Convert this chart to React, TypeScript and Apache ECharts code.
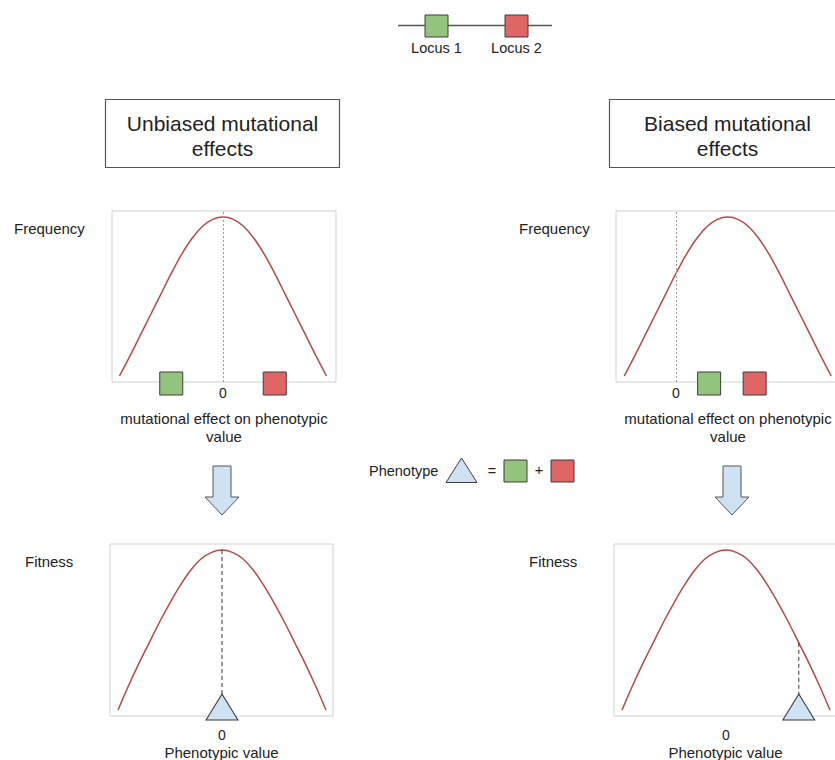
import { useEffect, useRef } from "react";
import * as echarts from "echarts";

// ---- data ----
const effectSteps = [-1, -0.9, -0.8, -0.7, -0.6, -0.5, -0.4, -0.3, -0.2, -0.1, 0, 0.1, 0.2, 0.3, 0.4, 0.5, 0.6, 0.7, 0.8, 0.9, 1];
const frequencyValues = [0, 0.125, 0.255, 0.385, 0.515, 0.645, 0.765, 0.865, 0.94, 0.985, 1, 0.985, 0.94, 0.865, 0.765, 0.645, 0.515, 0.385, 0.255, 0.125, 0];
const fitnessValues = [0, 0.15, 0.29, 0.42, 0.55, 0.67, 0.78, 0.875, 0.945, 0.985, 1, 0.985, 0.945, 0.875, 0.78, 0.67, 0.55, 0.42, 0.29, 0.15, 0];
const unbiasedMean = 0;
const biasedMean = 0.5;
const unbiasedLocusEffects = [-0.5, 0.5];
const biasedLocusEffects = [0.32, 0.76];
const unbiasedPhenotype = 0;
const unbiasedPhenotypeFitness = 1;
const biasedPhenotype = 0.7;
const biasedPhenotypeFitness = 0.42;
const triangleApex = 0.1;
const panelTitles = ["Unbiased mutational\neffects", "Biased mutational\neffects"];
const locusNames = ["Locus 1", "Locus 2"];
const topAxisName = "mutational effect on phenotypic\nvalue";
const bottomAxisName = "Phenotypic value";
const zeroTick = [0];

// ---- styles ----
const FONT = "'Liberation Sans', Arial, Helvetica, sans-serif";
const GREEN = "#93c47d";
const RED = "#e06666";
const BLUE = "#cfe2f3";
const CURVE = "#b5484a";
const EDGE = "#3c3c3c";
const TEXT = "#222222";

const grids = [
  { left: 112, top: 211, width: 224, height: 171 },
  { left: 616, top: 211, width: 224, height: 171 },
  { left: 110, top: 544, width: 223, height: 172 },
  { left: 614, top: 544, width: 223, height: 172 },
];
const xRanges = [
  [-1.0725, 1.0918],
  [-0.5797, 1.5845],
  [-1.0769, 1.0673],
  [-1.0769, 1.0673],
];
const yRanges = [
  [-0.0377, 1.0377],
  [-0.0377, 1.0377],
  [-0.0375, 1.0375],
  [-0.0375, 1.0375],
];

function buildOption() {
  const xAxis = xRanges.map((r, i) => ({
    type: "value",
    gridIndex: i,
    min: r[0],
    max: r[1],
    axisLine: { show: false },
    axisTick: { show: false },
    splitLine: { show: false },
    axisLabel: {
      customValues: zeroTick,
      formatter: (v: number) => String(v),
      fontSize: 14,
      fontFamily: FONT,
      color: TEXT,
      margin: i < 2 ? 4 : 12,
    },
    name: i < 2 ? topAxisName : bottomAxisName,
    nameLocation: "middle",
    nameGap: i < 2 ? 27 : 28,
    nameTextStyle: {
      fontSize: 15,
      fontFamily: FONT,
      color: TEXT,
      lineHeight: i < 2 ? 18 : 16,
      align: "center",
    },
  }));
  const yAxis = yRanges.map((r, i) => ({
    type: "value",
    gridIndex: i,
    min: r[0],
    max: r[1],
    show: false,
  }));

  const curve = (idx: number, xs: number[], ys: number[], withZero: boolean) => ({
    type: "line",
    xAxisIndex: idx,
    yAxisIndex: idx,
    data: xs.map((x, k) => [x, ys[k]]),
    smooth: 0.35,
    showSymbol: false,
    symbol: "none",
    silent: true,
    lineStyle: { color: CURVE, width: 1.5 },
    z: 2,
    markLine: withZero
      ? {
          silent: true,
          symbol: ["none", "none"],
          label: { show: false },
          lineStyle: { color: "#9a9a9a", type: [2, 2], width: 1 },
          data: [{ xAxis: 0 }],
        }
      : undefined,
  });

  const squares = (idx: number, effects: number[]) => ({
    type: "scatter",
    xAxisIndex: idx,
    yAxisIndex: idx,
    clip: false,
    silent: true,
    symbol: "rect",
    symbolSize: 23,
    symbolOffset: [0, 1.5],
    z: 4,
    itemStyle: { borderColor: EDGE, borderWidth: 1, opacity: 1 },
    data: effects.map((x, k) => ({
      value: [x, yRanges[idx][0]],
      itemStyle: { color: k === 0 ? GREEN : RED },
    })),
  });

  const phenotype = (idx: number, x: number, fit: number) => [
    {
      type: "line",
      xAxisIndex: idx,
      yAxisIndex: idx,
      data: [
        [x, fit],
        [x, triangleApex],
      ],
      showSymbol: false,
      symbol: "none",
      silent: true,
      lineStyle: { color: "#333", width: 1, type: [4, 3] },
      z: 3,
    },
    {
      type: "scatter",
      xAxisIndex: idx,
      yAxisIndex: idx,
      clip: false,
      silent: true,
      symbol: "triangle",
      symbolSize: [32, 26],
      symbolOffset: [0, -3],
      z: 4,
      itemStyle: { color: BLUE, borderColor: EDGE, borderWidth: 1, opacity: 1 },
      data: [[x, 0]],
    },
  ];

  const series: any[] = [
    curve(0, effectSteps.map((u) => u + unbiasedMean), frequencyValues, true),
    curve(1, effectSteps.map((u) => u + biasedMean), frequencyValues, true),
    curve(2, effectSteps, fitnessValues, false),
    curve(3, effectSteps, fitnessValues, false),
    squares(0, unbiasedLocusEffects),
    squares(1, biasedLocusEffects),
    ...phenotype(2, unbiasedPhenotype, unbiasedPhenotypeFitness),
    ...phenotype(3, biasedPhenotype, biasedPhenotypeFitness),
  ];

  const txt = (text: string, x: number, y: number, size: number, align = "left", extra: any = {}) => ({
    type: "text",
    x,
    y,
    silent: true,
    z: 10,
    style: {
      text,
      fontSize: size,
      fontFamily: FONT,
      fill: TEXT,
      align,
      verticalAlign: "middle",
      ...extra,
    },
  });
  const box = (x: number, y: number, w: number, h: number, fill: string) => ({
    type: "rect",
    silent: true,
    z: 9,
    shape: { x, y, width: w, height: h },
    style: { fill, stroke: EDGE, lineWidth: 1 },
  });
  const arrow = (cx: number) => ({
    type: "polygon",
    silent: true,
    z: 9,
    shape: {
      points: [
        [cx - 9, 466],
        [cx + 9, 466],
        [cx + 9, 497],
        [cx + 17, 497],
        [cx, 515],
        [cx - 17, 497],
        [cx - 9, 497],
      ],
    },
    style: { fill: BLUE, stroke: "#555", lineWidth: 1 },
  });

  const graphic: any[] = [
    // locus legend
    {
      type: "line",
      silent: true,
      z: 8,
      shape: { x1: 398, y1: 25.5, x2: 552, y2: 25.5 },
      style: { stroke: "#555", lineWidth: 1.5 },
    },
    box(425, 15, 23, 22, GREEN),
    box(505, 15, 23, 22, RED),
    txt(locusNames[0], 436.5, 48, 14.5, "center"),
    txt(locusNames[1], 516.5, 48, 14.5, "center"),
    // titles
    {
      type: "rect",
      silent: true,
      z: 8,
      shape: { x: 105.5, y: 99.5, width: 234, height: 68 },
      style: { fill: "#fff", stroke: "#555", lineWidth: 1.2 },
    },
    {
      type: "rect",
      silent: true,
      z: 8,
      shape: { x: 609.5, y: 99.5, width: 240, height: 68 },
      style: { fill: "#fff", stroke: "#555", lineWidth: 1.2 },
    },
    txt(panelTitles[0], 222.5, 135.5, 21, "center", { lineHeight: 25 }),
    txt(panelTitles[1], 727.5, 135.5, 21, "center", { lineHeight: 25 }),
    // side labels
    txt("Frequency", 14, 228, 15),
    txt("Frequency", 519, 228, 15),
    txt("Fitness", 25, 561, 15),
    txt("Fitness", 529, 561, 15),
    // arrows
    arrow(222),
    arrow(732),
    // phenotype equation
    txt("Phenotype", 369, 471, 14.5),
    {
      type: "polygon",
      silent: true,
      z: 9,
      shape: { points: [[461.5, 458], [477, 482.5], [446, 482.5]] },
      style: { fill: BLUE, stroke: EDGE, lineWidth: 1 },
    },
    txt("=", 492, 471, 14.5, "center"),
    box(504, 460, 23, 22, GREEN),
    txt("+", 539, 470, 14.5, "center"),
    box(551, 460, 23, 22, RED),
  ];

  return {
    animation: false,
    backgroundColor: "#ffffff",
    grid: grids.map((g) => ({
      ...g,
      show: true,
      borderColor: "#cfcfcf",
      borderWidth: 1,
      backgroundColor: "transparent",
      containLabel: false,
      outerBoundsMode: "none",
    })),
    xAxis,
    yAxis,
    series,
    graphic,
  };
}

export default function App() {
  const ref = useRef<HTMLDivElement>(null);
  useEffect(() => {
    document.body.style.margin = "0";
    if (!ref.current) return;
    const chart = echarts.init(ref.current, undefined, { renderer: "svg" });
    chart.setOption(buildOption() as any);
    return () => chart.dispose();
  }, []);
  return <div ref={ref} style={{ width: 835, height: 760 }} />;
}
